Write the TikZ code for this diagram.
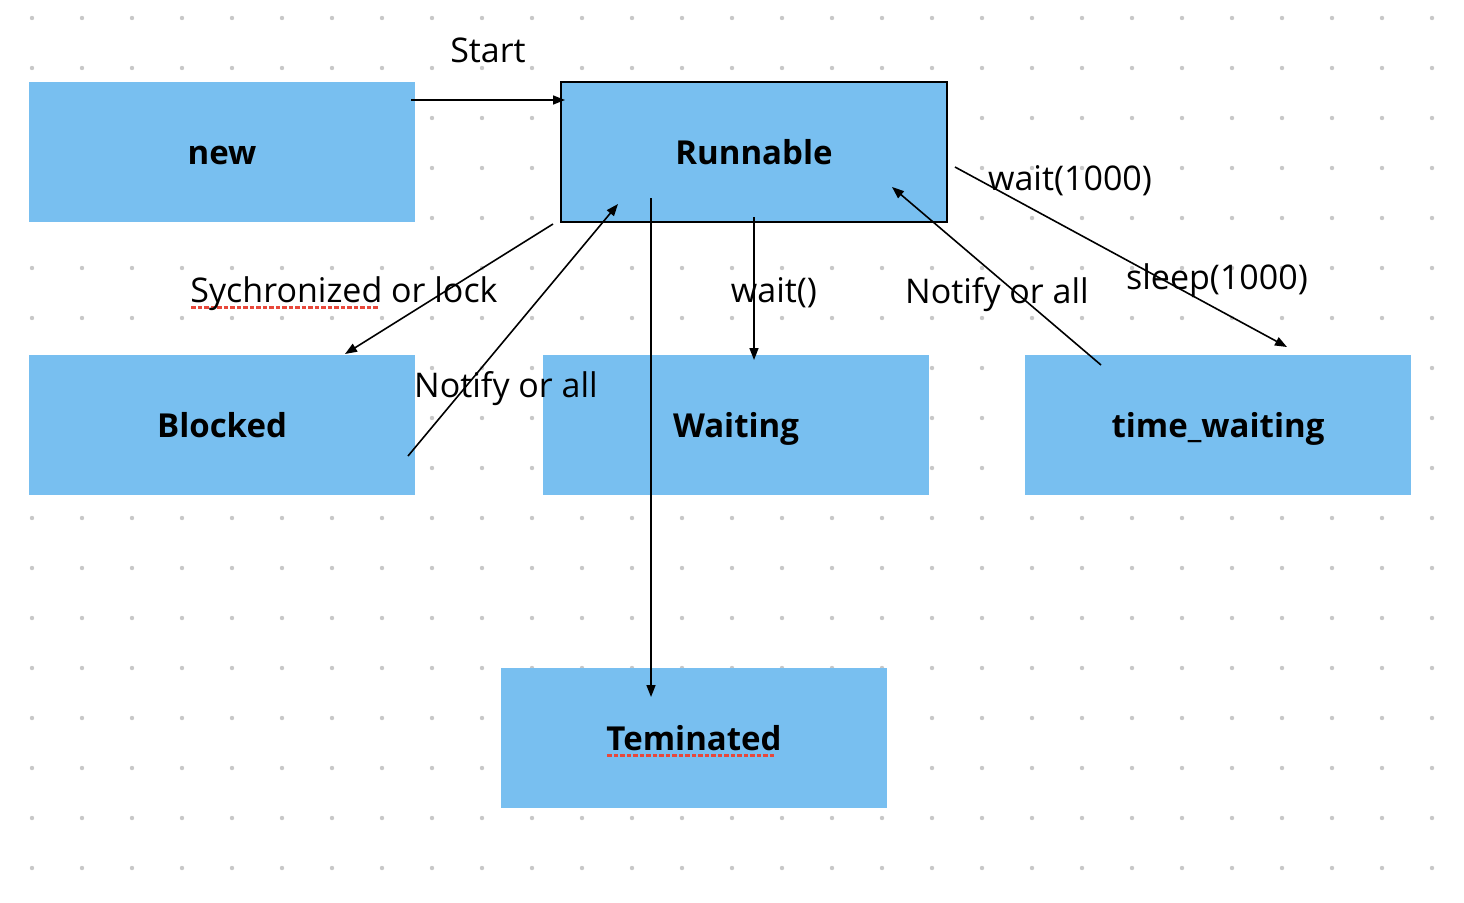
\documentclass[tikz,border=0pt]{standalone}
\usepackage{fontspec}
\setmainfont{Open Sans}
\usetikzlibrary{arrows.meta}
\definecolor{boxblue}{HTML}{78BFF0}
\definecolor{dotgray}{HTML}{C8C8C8}
\definecolor{spellred}{HTML}{E8483B}
\newcommand\spellerr[1]{\setbox0\hbox{#1}\rlap{\color{spellred}\leaders\hbox to 6.5pt{\hss\rule[-7pt]{4.5pt}{3pt}\hss}\hskip\wd0}\box0\relax}
\begin{document}
\begin{tikzpicture}[x=1pt,y=-1pt,
  state/.style={fill=boxblue, minimum width=386pt, minimum height=140pt, inner sep=0pt,
    text height=24pt, text depth=0pt,
    font=\fontsize{33}{38}\selectfont\bfseries},
  conn/.style={line width=1.6pt, -{Triangle[length=12pt,width=9pt]}},
  lbl/.style={font=\fontsize{34}{40}\selectfont, inner sep=0pt, text height=24pt, text depth=0pt}]
\useasboundingbox (0,0) rectangle (1464,902);
\fill[white] (0,0) rectangle (1464,902);
\foreach \x in {32,82,...,1432}
  \foreach \y in {18,68,...,868}
    \fill[dotgray] (\x,\y) circle (2.2);
% states
\node[state] (new) at (222,152) {new};
\node[state, draw=black, line width=1.6pt] (run) at (754,152) {Runnable};
\node[state] (blk) at (222,425) {Blocked};
\node[state] (wait) at (736,425) {Waiting};
\node[state] (tw) at (1218,425) {time\_waiting};
\node[state] (term) at (694,738) {\spellerr{Teminated}};
% connector end points
\coordinate (s1) at (411,100); \coordinate (e1) at (565,100);
\coordinate (s2) at (553,224); \coordinate (e2) at (345,354);
\coordinate (s3) at (408,456); \coordinate (e3) at (618,204);
\coordinate (s4) at (754,217); \coordinate (e4) at (754,360);
\coordinate (s5) at (651,198); \coordinate (e5) at (651,697);
\coordinate (s6) at (1101,365); \coordinate (e6) at (892,187);
\coordinate (s7) at (955,167); \coordinate (e7) at (1287,347);
% connectors
\draw[conn] (s1) -- (e1);
\draw[conn] (s2) -- (e2);
\draw[conn] (s3) -- (e3);
\draw[conn] (s4) -- (e4);
\draw[conn] (s5) -- (e5);
\draw[conn] (s6) -- (e6);
\draw[conn] (s7) -- (e7);
% labels
\node[lbl] (lstart) at (488,50) {Start};
\node[lbl] (lsync) at (344,290) {\spellerr{Sychronized} or lock};
\node[lbl] (lnot1) at (506,385) {Notify or all};
\node[lbl] (lwait) at (774,290) {wait()};
\node[lbl] (lnot2) at (997,291) {Notify or all};
\node[lbl] (lw1000) at (1070,178) {wait(1000)};
\node[lbl] (ls1000) at (1217,277) {sleep(1000)};
\end{tikzpicture}
\end{document}
